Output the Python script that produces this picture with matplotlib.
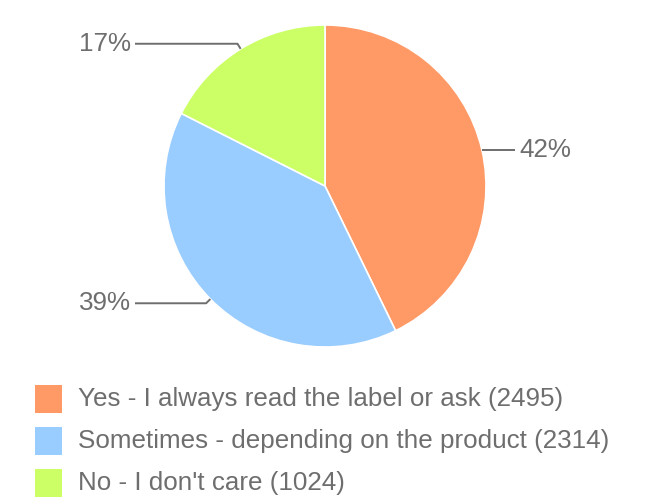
import numpy as np
import matplotlib
matplotlib.use("Agg")
import matplotlib.pyplot as plt
from matplotlib.patches import Rectangle

labels = ["Yes - I always read the label or ask", "Sometimes - depending on the product", "No - I don't care"]
counts = [2495, 2314, 1024]
colors = ["#ff9966", "#99ccff", "#ccff66"]

W, H = 650, 499
fig = plt.figure(figsize=(W / 100, H / 100), dpi=100)
ax = fig.add_axes([0, 0, 1, 1])

cx, cy, r = 325, 186, 161
# y axis is flipped, so counterclock=True draws clockwise on screen
wedges, _ = ax.pie(counts, colors=colors, startangle=-90, counterclock=True,
                   center=(cx, cy), radius=r, frame=True,
                   wedgeprops=dict(edgecolor="white", linewidth=1.2))
ax.set_xlim(0, W)
ax.set_ylim(H, 0)
ax.set_aspect("equal")
ax.axis("off")

txt = "#6e6e6e"
fs = 18.7
total = sum(counts)
for w, c in zip(wedges, counts):
    ang = np.deg2rad((w.theta1 + w.theta2) / 2)
    x0, y0 = cx + r * np.cos(ang), cy + r * np.sin(ang)
    x1, y1 = cx + (r + 6) * np.cos(ang), cy + (r + 6) * np.sin(ang)
    pct = "%d%%" % int(100 * c / total)
    if x0 > cx:
        xe = 515
        ax.plot([x0, xe], [y0, y0], color=txt, lw=1.4, solid_capstyle="butt")
        ax.text(xe + 4, y0, pct, color=txt, fontsize=fs, family="Liberation Sans",
                ha="left", va="center")
    else:
        xe = 135
        ax.plot([x0, x1, xe], [y0, y1, y1], color=txt, lw=1.4, solid_capstyle="butt")
        ax.text(xe - 4, y1, pct, color=txt, fontsize=fs, family="Liberation Sans",
                ha="right", va="center")

# legend
for i, (lab, c, col) in enumerate(zip(labels, counts, colors)):
    yb = 406 + i * 42
    ax.add_patch(Rectangle((35, yb - 21), 27, 28, facecolor=col, edgecolor="none"))
    ax.text(78, yb, "%s (%d)" % (lab, c), color=txt, fontsize=fs,
            family="Liberation Sans", ha="left", va="baseline")

fig.savefig("out.png", dpi=100, facecolor="white")
